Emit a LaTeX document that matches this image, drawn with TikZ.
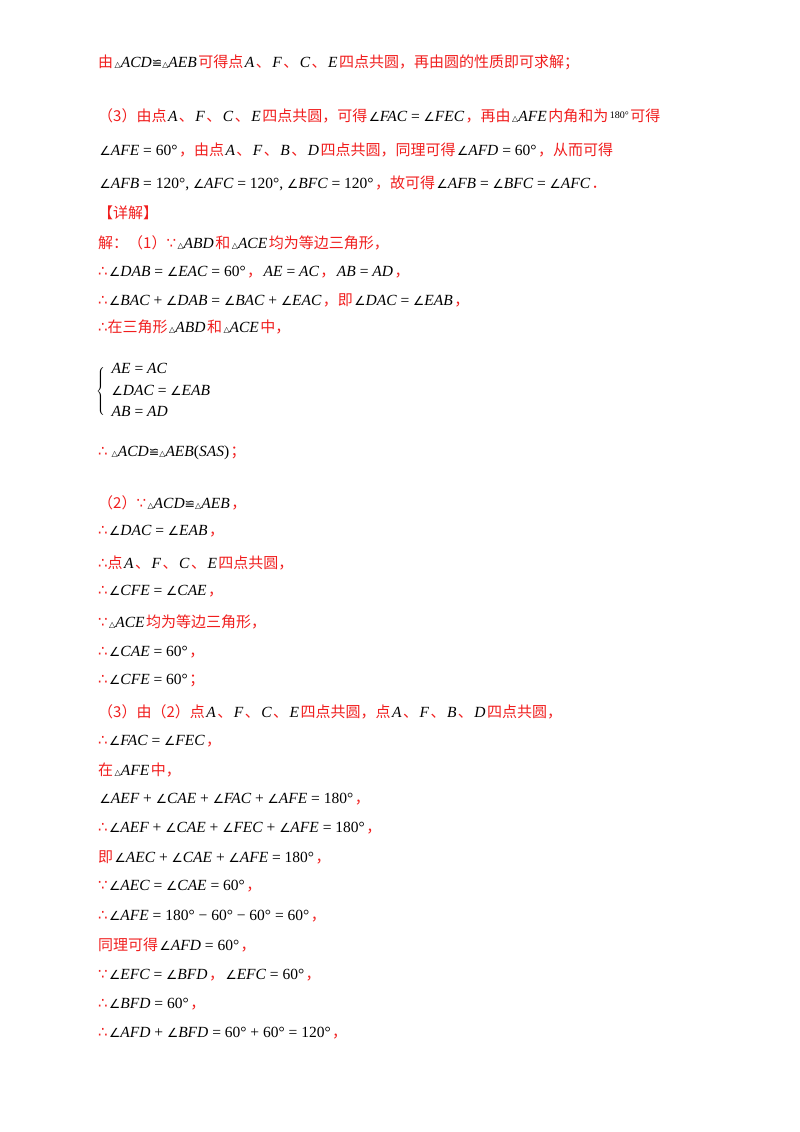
\documentclass[tikz,border=0pt]{standalone}
\usepackage{fontspec}
\setmainfont{Noto Sans CJK SC}
\newfontfamily\lib{Liberation Serif}
\newfontfamily\dv{DejaVu Sans}
\definecolor{rd}{RGB}{240,30,30}
\newcommand\M[1]{\kern1.5pt{\color{black}\lib\itshape\fontsize{15.5}{17}\selectfont #1}\kern1.5pt}
\newcommand\Up[1]{{\upshape #1}}
\newcommand\ang{{\dv\upshape\fontsize{12.5}{12}\selectfont ∠}}
\newcommand\tri{{\dv\upshape\fontsize{8}{8}\selectfont △}}
\newcommand\cgr{{\dv\upshape\fontsize{12.5}{12}\selectfont ≌}}
\newcommand\so{{\color{rd}\dv\upshape ∴}}
\newcommand\bc{{\color{rd}\dv\upshape ∵}}
\begin{document}
\begin{tikzpicture}[x=1pt,y=-1pt,every node/.style={anchor=west,inner sep=0,text=rd,font=\fontsize{15}{17}\selectfont}]
\useasboundingbox (0,0) rectangle (800,1132);
\node (l1) at (98,62) {由\M{\tri ACD\cgr\tri AEB}可得点\M{A}、\M{F}、\M{C}、\M{E}四点共圆，再由圆的性质即可求解；};
\node (l2) at (98,116) {（3）由点\M{A}、\M{F}、\M{C}、\M{E}四点共圆，可得\M{\ang FAC\Up{ = }\ang FEC}，再由\M{\tri AFE}内角和为\M{\Up{\raisebox{3pt}{\fontsize{10}{10}\selectfont 180°}}}可得};
\node (l3) at (98,150) {\M{\ang AFE\Up{ = 60°}}，由点\M{A}、\M{F}、\M{B}、\M{D}四点共圆，同理可得\M{\ang AFD\Up{ = 60°}}，从而可得};
\node (l4) at (98,183) {\M{\ang AFB\Up{ = 120°, }\ang AFC\Up{ = 120°, }\ang BFC\Up{ = 120°}}，故可得\M{\ang AFB\Up{ = }\ang BFC\Up{ = }\ang AFC}．};
\node (l5) at (98,213) {【详解】};
\node (l6) at (98,243) {解：（1）\bc{}\M{\tri ABD}和\M{\tri ACE}均为等边三角形，};
\node (l7) at (98,272) {\so{}\M{\ang DAB\Up{ = }\ang EAC\Up{ = 60°}}，\M{AE\Up{ = }AC}，\M{AB\Up{ = }AD}，};
\node (l8) at (98,300) {\so{}\M{\ang BAC\Up{ + }\ang DAB\Up{ = }\ang BAC\Up{ + }\ang EAC}，即\M{\ang DAC\Up{ = }\ang EAB}，};
\node (l9) at (98,327) {\so{}在三角形\M{\tri ABD}和\M{\tri ACE}中，};
\node (br) at (96,390) {\color{black}\lib\nulldelimiterspace=0pt$\left\{\vphantom{\rule{0pt}{30pt}}\right.$};
\node (s1) at (110,368) {\M{AE\Up{ = }AC}};
\node (s2) at (110,390) {\M{\ang DAC\Up{ = }\ang EAB}};
\node (s3) at (110,411) {\M{AB\Up{ = }AD}};
\node (l10) at (98,453) {\so{}\,\M{\tri ACD\cgr\tri AEB\Up{(}SAS\Up{)}}；};
\node (l11) at (98,503) {（2）\bc{}\M{\tri ACD\cgr\tri AEB}，};
\node (l12) at (98,531) {\so{}\M{\ang DAC\Up{ = }\ang EAB}，};
\node (l13) at (98,563) {\so{}点\M{A}、\M{F}、\M{C}、\M{E}四点共圆，};
\node (l14) at (98,591) {\so{}\M{\ang CFE\Up{ = }\ang CAE}，};
\node (l15) at (98,622) {\bc{}\M{\tri ACE}均为等边三角形，};
\node (l16) at (98,652) {\so{}\M{\ang CAE\Up{ = 60°}}，};
\node (l17) at (98,681) {\so{}\M{\ang CFE\Up{ = 60°}}；};
\node (l18) at (98,712) {（3）由（2）点\M{A}、\M{F}、\M{C}、\M{E}四点共圆，点\M{A}、\M{F}、\M{B}、\M{D}四点共圆，};
\node (l19) at (98,741) {\so{}\M{\ang FAC\Up{ = }\ang FEC}，};
\node (l20) at (98,770) {在\M{\tri AFE}中，};
\node (l21) at (98,799) {\M{\ang AEF\Up{ + }\ang CAE\Up{ + }\ang FAC\Up{ + }\ang AFE\Up{ = 180°}}，};
\node (l22) at (98,828) {\so{}\M{\ang AEF\Up{ + }\ang CAE\Up{ + }\ang FEC\Up{ + }\ang AFE\Up{ = 180°}}，};
\node (l23) at (98,857) {即\M{\ang AEC\Up{ + }\ang CAE\Up{ + }\ang AFE\Up{ = 180°}}，};
\node (l24) at (98,886) {\bc{}\M{\ang AEC\Up{ = }\ang CAE\Up{ = 60°}}，};
\node (l25) at (98,916) {\so{}\M{\ang AFE\Up{ = 180° − 60° − 60° = 60°}}，};
\node (l26) at (98,945) {同理可得\M{\ang AFD\Up{ = 60°}}，};
\node (l27) at (98,975) {\bc{}\M{\ang EFC\Up{ = }\ang BFD}，\M{\ang EFC\Up{ = 60°}}，};
\node (l28) at (98,1004) {\so{}\M{\ang BFD\Up{ = 60°}}，};
\node (l29) at (98,1033) {\so{}\M{\ang AFD\Up{ + }\ang BFD\Up{ = 60° + 60° = 120°}}，};
\end{tikzpicture}
\end{document}
